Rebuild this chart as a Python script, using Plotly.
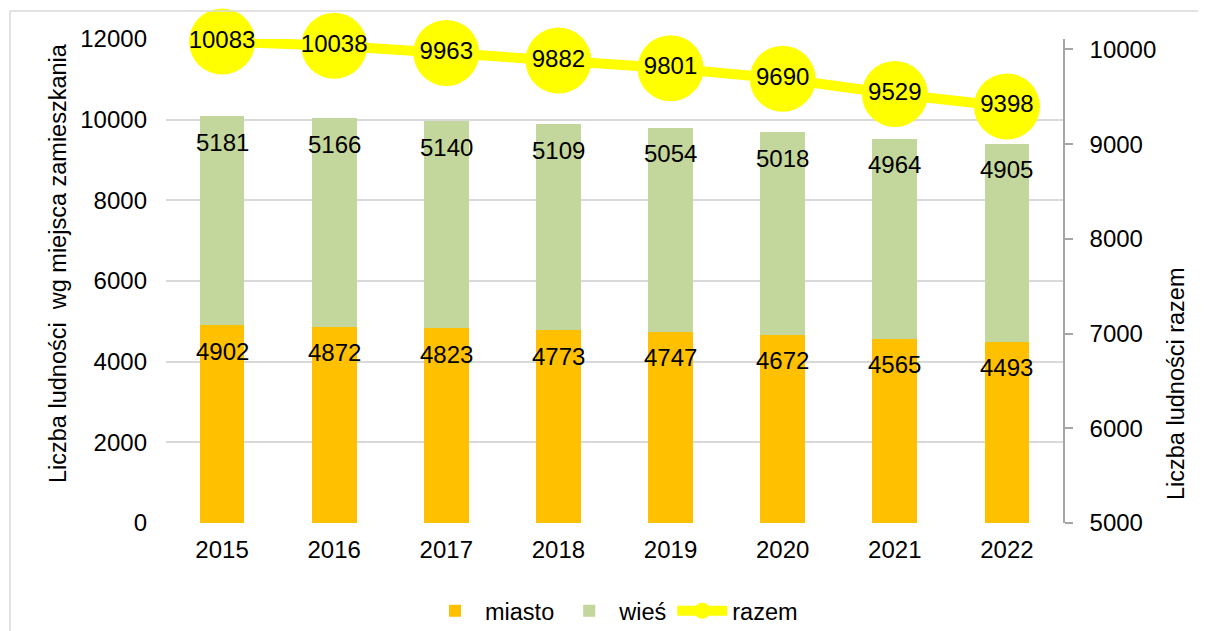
import plotly.graph_objects as go

years = [2015, 2016, 2017, 2018, 2019, 2020, 2021, 2022]
miasto = [4902, 4872, 4823, 4773, 4747, 4672, 4565, 4493]
wies = [5181, 5166, 5140, 5109, 5054, 5018, 4964, 4905]
razem = [10083, 10038, 9963, 9882, 9801, 9690, 9529, 9398]

left_ticks = [0, 2000, 4000, 6000, 8000, 10000, 12000]
right_ticks = [5000, 6000, 7000, 8000, 9000, 10000]

FONT = "Liberation Sans, Arial, sans-serif"
FS = 24
FT = 23.5

fig = go.Figure()
fig.add_trace(go.Bar(x=years, y=miasto, name="miasto", marker_color="#FFC000",
                     marker_line_width=0, width=0.4))
fig.add_trace(go.Bar(x=years, y=wies, name="wieś", marker_color="#C3D69B",
                     marker_line_width=0, width=0.4))
fig.add_trace(go.Scatter(x=years, y=razem, name="razem", yaxis="y2",
                         mode="lines+markers+text",
                         line=dict(color="#FFFF00", width=10),
                         marker=dict(color="#FFFF00", size=66),
                         text=[str(v) for v in razem],
                         textposition="middle center",
                         textfont=dict(family=FONT, size=FS, color="#000000"),
                         cliponaxis=False))

annotations = []
for yr, m, w in zip(years, miasto, wies):
    annotations.append(dict(x=yr, y=m, xref="x", yref="y", text=str(m), showarrow=False,
                            yanchor="middle", yshift=-26,
                            font=dict(family=FONT, size=FS, color="#000000")))
    annotations.append(dict(x=yr, y=m + w, xref="x", yref="y", text=str(w), showarrow=False,
                            yanchor="middle", yshift=-26,
                            font=dict(family=FONT, size=FS, color="#000000")))

# page has an 8px body margin: figure pixel = page pixel - 8
OFF = 8
W, H = 1206 - OFF, 631 - OFF
L, R, T, B = 166 - OFF, 143, 39 - OFF, 108
pw, ph = W - L - R, H - T - B

def px_x(px):
    return (px - OFF - L) / pw

def px_y(py):
    return (H - B - (py - OFF)) / ph

annotations.append(dict(x=px_x(58), y=px_y(263), xref="paper", yref="paper",
                        text="Liczba ludności  wg miejsca zamieszkania", textangle=-90,
                        showarrow=False, xanchor="center", yanchor="middle",
                        font=dict(family=FONT, size=FT, color="#000000")))
annotations.append(dict(x=px_x(1176), y=px_y(384), xref="paper", yref="paper",
                        text="Liczba ludności razem", textangle=-90,
                        showarrow=False, xanchor="center", yanchor="middle",
                        font=dict(family=FONT, size=FT, color="#000000")))

shapes = [
    dict(type="line", xref="paper", yref="paper", x0=px_x(10), x1=px_x(10),
         y0=px_y(700), y1=px_y(11), line=dict(color="#D9D9D9", width=1.5)),
    dict(type="line", xref="paper", yref="paper", x0=px_x(10), x1=px_x(1300),
         y0=px_y(11), y1=px_y(11), line=dict(color="#D9D9D9", width=1.5)),
]

fig.update_layout(
    width=W, height=H,
    margin=dict(l=L, r=R, t=T, b=B, pad=0, autoexpand=False),
    barmode="stack",
    paper_bgcolor="#FFFFFF",
    plot_bgcolor="#FFFFFF",
    font=dict(family=FONT, size=FS, color="#000000"),
    showlegend=True,
    legend=dict(orientation="h", x=px_x(614), xanchor="center", y=px_y(611),
                yanchor="middle", font=dict(family=FONT, size=FT, color="#000000"),
                bgcolor="rgba(0,0,0,0)", itemwidth=50, traceorder="normal"),
    xaxis=dict(range=[2014.5, 2022.5], tickvals=years, showgrid=False, showline=False,
               zeroline=False, ticks="", ticklabelstandoff=10, automargin=False,
               tickformat="d",
               tickfont=dict(family=FONT, size=FS, color="#000000")),
    yaxis=dict(range=[0, 12000], tickvals=left_ticks, showgrid=True,
               gridcolor="#D9D9D9", gridwidth=1.5, zeroline=False, showline=False,
               ticks="", ticklabelstandoff=18, tickformat="d", automargin=False,
               tickfont=dict(family=FONT, size=FS, color="#000000")),
    yaxis2=dict(range=[5000, 10110], tickvals=right_ticks, overlaying="y", side="right",
                showgrid=False, zeroline=False, showline=True, linecolor="#A6A6A6",
                linewidth=1.5, ticks="outside", ticklen=8, tickcolor="#A6A6A6",
                tickwidth=1.5, ticklabelstandoff=12, tickformat="d", automargin=False,
                tickfont=dict(family=FONT, size=FS, color="#000000")),
    annotations=annotations,
    shapes=shapes,
)

fig.write_html("out.html")
